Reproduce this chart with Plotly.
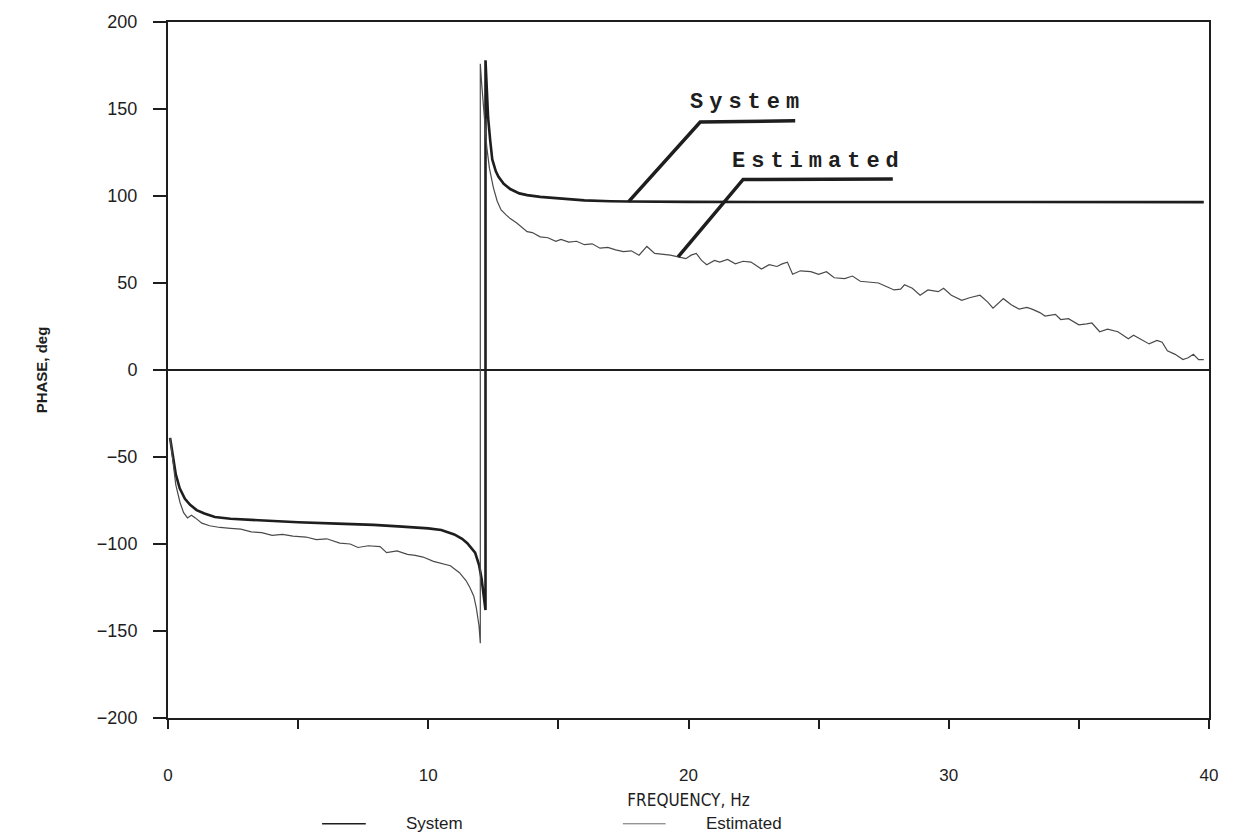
import plotly.graph_objects as go

# ---- System (true) phase response ----
sys_freq_low = [0.08, 0.2, 0.3, 0.45, 0.65, 0.85, 1.1, 1.4, 1.8, 2.4, 3.5, 5.0, 6.5, 7.9, 9.0,
                10.0, 10.5, 11.0, 11.3, 11.5, 11.8, 11.95, 12.05, 12.12, 12.2]
sys_phase_low = [-39, -52, -60, -68, -74, -77.5, -80.5, -82.5, -84.5, -85.5, -86.5, -87.5, -88.3, -89, -90,
                 -91, -92, -94.5, -97, -99.5, -105, -112, -120, -128, -138]
sys_freq_high = [12.2, 12.25, 12.3, 12.38, 12.46, 12.6, 12.7, 12.9, 13.15, 13.5, 13.8, 14.3, 15.0, 16.0,
                 17.0, 17.7, 20.0, 25.0, 30.0, 35.0, 39.8]
sys_phase_high = [178, 160, 145, 132, 121, 114, 111, 107, 104, 101.5, 100.5, 99.5, 98.5, 97.5,
                  97, 96.8, 96.6, 96.5, 96.5, 96.5, 96.5]

# ---- Estimated phase response ----
est_freq_low = [0.08, 0.2, 0.3, 0.46, 0.6, 0.75, 0.9, 1.05, 1.3, 1.6, 2.0, 2.4, 2.8, 3.2, 3.6, 4.0,
                4.4, 4.8, 5.3, 5.7, 6.1, 6.6, 7.0, 7.3, 7.7, 8.15, 8.4, 8.8, 9.2, 9.5, 9.8, 10.2,
                10.5, 10.85, 11.2, 11.45, 11.6, 11.75, 11.85, 11.95, 12.0]
est_phase_low = [-39, -55, -66, -76, -82, -85, -83.5, -85, -88, -89.5, -90.5, -91, -91.5, -93, -93.5, -95,
                 -94.5, -95.5, -96, -97.5, -97, -99.5, -100, -102, -101, -101.5, -105, -104, -106, -106.5, -107.5, -110,
                 -111, -112.5, -116.5, -121, -125, -130, -137, -147, -157]
est_freq_high = [12.0, 12.05, 12.15, 12.25, 12.35, 12.5, 12.65, 12.8, 13.0, 13.15, 13.4, 13.6, 13.8, 14.0,
                 14.3, 14.6, 14.9, 15.1, 15.4, 15.7, 16.0, 16.3, 16.6, 16.9, 17.2, 17.5, 17.8, 18.1,
                 18.4, 18.7, 19.0, 19.3, 19.6, 19.9, 20.1, 20.3, 20.5, 20.7, 21.0, 21.2, 21.5, 21.8,
                 22.1, 22.4, 22.6, 22.8, 23.1, 23.4, 23.6, 23.8, 24.0, 24.3, 24.7, 25.0, 25.3, 25.6,
                 26.0, 26.3, 26.6, 27.0, 27.3, 27.6, 27.9, 28.15, 28.3, 28.6, 28.9, 29.2, 29.6, 29.8,
                 30.1, 30.5, 30.8, 31.2, 31.5, 31.7, 32.1, 32.4, 32.7, 33.0, 33.2, 33.5, 33.7, 34.1,
                 34.3, 34.6, 35.0, 35.3, 35.5, 35.8, 36.1, 36.5, 36.9, 37.1, 37.4, 37.7, 38.0, 38.2,
                 38.4, 38.7, 39.0, 39.2, 39.4, 39.6, 39.8]
est_phase_high = [176, 165, 145, 128, 116, 105, 97, 92, 89, 87, 84.5, 82, 79.5, 79,
                  76.5, 76, 74, 75, 73.5, 74, 72, 72.5, 70, 70.5, 69, 68, 68.5, 66,
                  71, 67, 66.5, 66, 65, 64, 66, 67, 63, 60.5, 63, 62, 63.5, 61,
                  62.5, 62, 60, 58, 60.5, 59.5, 61, 62, 55, 57, 56.5, 55, 56.5, 53,
                  52.5, 54, 51, 50.5, 50, 48, 46, 46.5, 49, 47, 43, 46, 45, 47,
                  43, 40, 41.5, 43, 39, 35.5, 41, 37.5, 35, 36, 35, 33, 31, 32,
                  29, 29.5, 26, 26.5, 27, 22, 23.5, 22, 18, 20, 17.5, 15, 17, 16,
                  11, 9, 6, 7, 9, 6, 6]

# ---- Axis ticks ----
x_tick_vals = [0, 5, 10, 15, 20, 25, 30, 35, 40]
x_tick_text = ["0", "", "10", "", "20", "", "30", "", "40"]
y_tick_vals = [-200, -150, -100, -50, 0, 50, 100, 150, 200]
y_tick_text = ["\u2212200", "\u2212150", "\u2212100", "\u221250", "0", "50", "100", "150", "200"]

sys_label = "System"
est_label = "Estimated"

INK = "#1e1e1e"
SOFT = "#4a4a4a"

fig = go.Figure()

fig.add_trace(go.Scatter(x=sys_freq_low + sys_freq_high, y=sys_phase_low + sys_phase_high,
                         mode="lines", name=sys_label, showlegend=False,
                         line=dict(color=INK, width=2.6)))
fig.add_trace(go.Scatter(x=est_freq_low + est_freq_high, y=est_phase_low + est_phase_high,
                         mode="lines", name=est_label, showlegend=False,
                         line=dict(color=SOFT, width=1.2)))

# callout leaders: from a point on each curve up to a horizontal shelf under the label
sys_tip = (sys_freq_high[15], sys_phase_high[15])
est_tip = (est_freq_high[32], est_phase_high[32])
sys_knee, sys_end = (20.45, 142.5), (24.1, 143.2)
est_knee, est_end = (22.1, 109.5), (27.85, 109.8)

for tip, knee, end in [(sys_tip, sys_knee, sys_end), (est_tip, est_knee, est_end)]:
    fig.add_shape(type="path", xref="x", yref="y",
                  path=f"M {tip[0]} {tip[1]} L {knee[0]} {knee[1]} L {end[0]} {end[1]}",
                  line=dict(color=INK, width=3.5))

label_font = dict(family="Liberation Mono, Courier New, monospace", size=22, color=INK)
fig.add_annotation(x=22.25, y=154, xref="x", yref="y", showarrow=False,
                   text=f"<b><span style='letter-spacing:6px'>{sys_label}</span></b>",
                   font=label_font)
fig.add_annotation(x=25.0, y=120, xref="x", yref="y", showarrow=False,
                   text=f"<b><span style='letter-spacing:6px'>{est_label}</span></b>",
                   font=label_font)

# key below the axis title: a short line sample followed by the series name
key_font = dict(family="Liberation Sans, Arial, sans-serif", size=17, color=INK)
key_y = -0.152
for (x0, x1, tx, name, color, width) in [(0.148, 0.19, 0.227, sys_label, INK, 1.6),
                                          (0.437, 0.478, 0.515, est_label, "#6a6a6a", 1.0)]:
    fig.add_shape(type="line", xref="paper", yref="paper", x0=x0, x1=x1, y0=key_y, y1=key_y,
                  line=dict(color=color, width=width))
    fig.add_annotation(xref="paper", yref="paper", x=tx, y=key_y, xanchor="left", yanchor="middle",
                       showarrow=False, text=name, font=key_font)

fig.update_layout(
    width=1242, height=838,
    margin=dict(l=168, r=33, t=18, b=120),
    paper_bgcolor="white", plot_bgcolor="white",
    showlegend=False,
    font=dict(family="Liberation Sans, Arial, sans-serif", color=INK),
)

fig.update_xaxes(
    range=[0, 40], tickmode="array", tickvals=x_tick_vals, ticktext=x_tick_text,
    ticks="outside", ticklen=9, tickwidth=1.6, tickcolor=INK,
    showline=True, linecolor=INK, linewidth=2, mirror=True,
    showgrid=False, zeroline=False,
    tickfont=dict(size=17, color=INK), ticklabelstandoff=32,
    title=dict(text="FREQUENCY, Hz", standoff=10,
               font=dict(family="DejaVu Sans Condensed, DejaVu Sans, sans-serif", size=17, color=INK)),
)
fig.update_yaxes(
    range=[-200, 200], tickmode="array", tickvals=y_tick_vals, ticktext=y_tick_text,
    ticks="outside", ticklen=13, tickwidth=1.8, tickcolor=INK,
    showline=True, linecolor=INK, linewidth=2, mirror=True,
    showgrid=False, zeroline=True, zerolinecolor=INK, zerolinewidth=1.8,
    tickfont=dict(size=18, color=INK), ticklabelstandoff=12,
    title=dict(text="<b>PHASE, deg</b>", standoff=46,
               font=dict(family="Liberation Sans, Arial, sans-serif", size=15, color=INK)),
)

fig.write_html("out.html")
